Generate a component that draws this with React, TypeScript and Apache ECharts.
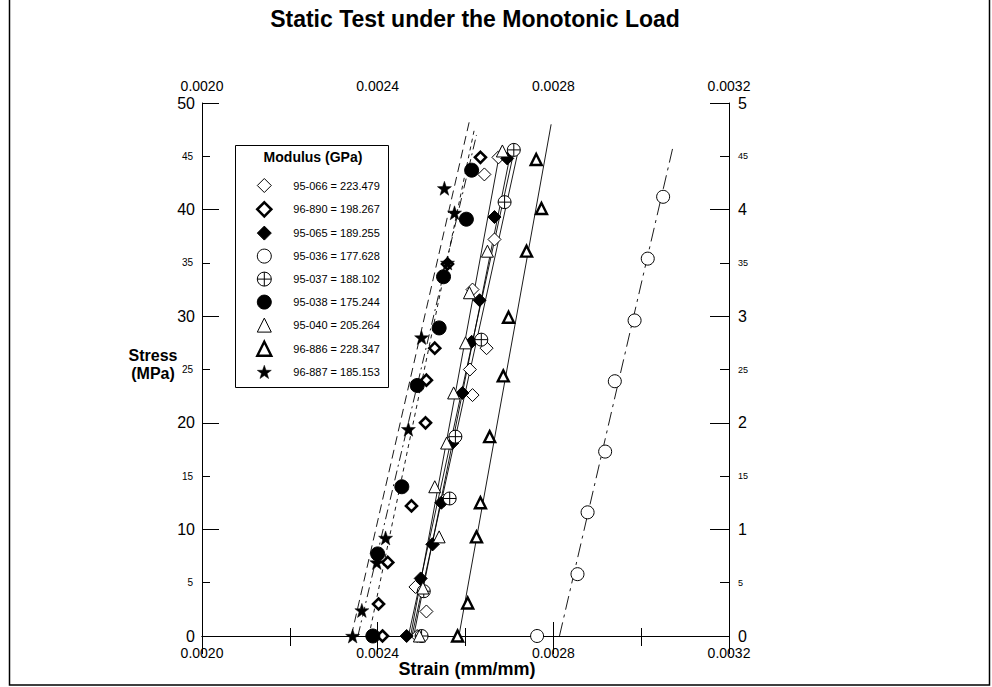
import React, { useEffect, useRef } from "react";
import * as echarts from "echarts";

// ---------- data (strain mm/mm, stress MPa) ----------
const legendNames = [
  "95-066 = 223.479",
  "96-890 = 198.267",
  "95-065 = 189.255",
  "95-036 = 177.628",
  "95-037 = 188.102",
  "95-038 = 175.244",
  "95-040 = 205.264",
  "96-886 = 228.347",
  "96-887 = 185.153",
];

const s95066 = [[0.00249, 0], [0.002511, 2.3], [0.002486, 4.6], [0.002525, 8.6], [0.00255, 12.7], [0.00257, 18.4], [0.002616, 22.6], [0.00261, 25.0], [0.002648, 27.0], [0.002616, 32.5], [0.002666, 37.2], [0.002643, 43.3], [0.002675, 44.9]];
const s96890 = [[0.002411, 0], [0.002402, 3.0], [0.002423, 6.9], [0.002477, 12.2], [0.002509, 20.0], [0.002511, 24.0], [0.00253, 27.0], [0.002559, 34.9], [0.002634, 44.9]];
const s95065 = [[0.002466, 0], [0.002498, 5.4], [0.002525, 8.6], [0.002545, 12.5], [0.00257, 18.1], [0.002593, 22.8], [0.002614, 27.6], [0.002632, 31.5], [0.002666, 39.3], [0.002695, 44.8]];
const s95036 = [[0.002763, 0], [0.002855, 5.8], [0.002878, 11.6], [0.002918, 17.3], [0.00294, 23.9], [0.002985, 29.6], [0.003015, 35.4], [0.00305, 41.2]];
const s95037 = [[0.0025, 0], [0.002505, 4.2], [0.002564, 12.9], [0.002577, 18.7], [0.002636, 27.8], [0.002689, 40.7], [0.00271, 45.6]];
const s95038 = [[0.002389, 0], [0.0024, 7.7], [0.002455, 14.0], [0.00249, 23.5], [0.00254, 28.9], [0.00255, 33.7], [0.002602, 39.1], [0.002614, 43.7]];
const s95040 = [[0.002495, 0], [0.002503, 4.5], [0.00254, 9.3], [0.00253, 14.0], [0.002557, 18.1], [0.002573, 22.8], [0.0026, 27.5], [0.002609, 32.2], [0.00265, 36.1], [0.002684, 45.5]];
const s96886 = [[0.002582, 0], [0.002605, 3.1], [0.002625, 9.3], [0.002634, 12.5], [0.002655, 18.7], [0.002686, 24.4], [0.002698, 29.9], [0.002739, 36.1], [0.002773, 40.1], [0.002761, 44.7]];
const s96887 = [[0.002343, 0], [0.002364, 2.4], [0.002398, 6.9], [0.002418, 9.2], [0.00247, 19.4], [0.0025, 28.0], [0.002559, 35.0], [0.002575, 39.7], [0.002552, 42.0]];

// fitted lines (end points)
const fit95066 = [[0.002475, 0], [0.00268, 45.8]];
const fit96890 = [[0.00238, 0], [0.00262, 47.5]];
const fit95065 = [[0.00247, 0], [0.00271, 45.4]];
const fit95036 = [[0.002814, 0], [0.003072, 45.8]];
const fit95037 = [[0.002478, 0], [0.002722, 45.9]];
const fit95038 = [[0.002355, 0], [0.002625, 47]];
const fit95040 = [[0.002482, 0], [0.002705, 45.8]];
const fit96886 = [[0.002585, 0], [0.002795, 48]];
const fit96887 = [[0.00234, 0], [0.00261, 48.5]];

const strainMin = 0.002;
const strainMax = 0.0032;
const strainStep = 0.0004;
const stressMax = 50;
const ratioMax = 5;

const FONT = "Liberation Sans";
const STAR = "path://M0,-10 L2.35,-3.24 L9.51,-3.09 L3.8,1.24 L5.88,8.09 L0,4 L-5.88,8.09 L-3.8,1.24 L-9.51,-3.09 L-2.35,-3.24 Z";
const CIRCLE_PLUS = "path://M10,0 A10,10 0 1,1 -10,0 A10,10 0 1,1 10,0 Z M-10,0 L10,0 M0,-10 L0,10";

type Sty = { symbol: string; size: number; fill: string; bw: number };
const styles: Sty[] = [
  { symbol: "diamond", size: 13, fill: "#fff", bw: 1 },
  { symbol: "diamond", size: 11, fill: "#fff", bw: 2.6 },
  { symbol: "diamond", size: 13, fill: "#000", bw: 1 },
  { symbol: "circle", size: 13, fill: "#fff", bw: 1 },
  { symbol: CIRCLE_PLUS, size: 13, fill: "#fff", bw: 1 },
  { symbol: "circle", size: 14, fill: "#000", bw: 1 },
  { symbol: "triangle", size: 12, fill: "#fff", bw: 1 },
  { symbol: "triangle", size: 11, fill: "#fff", bw: 2.4 },
  { symbol: STAR, size: 14, fill: "#000", bw: 0.5 },
];
const pointSets = [s95066, s96890, s95065, s95036, s95037, s95038, s95040, s96886, s96887];
const fitSets = [fit95066, fit96890, fit95065, fit95036, fit95037, fit95038, fit95040, fit96886, fit96887];
const fitDash: any[] = ["solid", [4, 4], "solid", [14, 5, 3, 5], "solid", [10, 4, 2, 4], "solid", "solid", [9, 5]];

function buildOption() {
  const lineSeries = fitSets.map((d, i) => ({
    name: "fit " + legendNames[i],
    type: "line",
    data: d,
    symbol: "none",
    silent: true,
    z: 1,
    lineStyle: { color: "#000", width: 0.9, type: fitDash[i] },
  }));
  const scatterSeries = pointSets.map((d, i) => ({
    name: legendNames[i],
    type: "scatter",
    data: d,
    symbol: styles[i].symbol,
    symbolSize: styles[i].size,
    z: 3,
    itemStyle: {
      color: styles[i].fill,
      borderColor: "#000",
      borderWidth: styles[i].bw,
      opacity: 1,
    },
  }));
  const legendData = legendNames.map((n, i) => ({
    name: n,
    icon: styles[i].symbol,
    itemStyle: { color: styles[i].fill, borderColor: "#000", borderWidth: styles[i].bw },
  }));
  const axisCommon = {
    type: "value",
    splitLine: { show: false },
    axisLine: { show: true, lineStyle: { color: "#000", width: 1 } },
  };
  return {
    animation: false,
    backgroundColor: "#fff",
    grid: { left: 202, right: 263, top: 103, bottom: 51 },
    xAxis: [
      {
        ...axisCommon,
        position: "bottom",
        min: strainMin,
        max: strainMax,
        interval: strainStep,
        axisTick: { inside: true, length: 14, lineStyle: { color: "#000" } },
        minorTick: { show: true, splitNumber: 2, length: 8, lineStyle: { color: "#000" } },
        axisLabel: { color: "#000", fontSize: 14, fontFamily: FONT, margin: 10, formatter: (v: number) => v.toFixed(4) },
      },
      {
        ...axisCommon,
        position: "top",
        min: strainMin,
        max: strainMax,
        interval: strainStep,
        axisTick: { inside: true, length: 18, lineStyle: { color: "#000" } },
        minorTick: { show: true, splitNumber: 2, length: 10, lineStyle: { color: "#000" } },
        axisLabel: { color: "#000", fontSize: 14, fontFamily: FONT, margin: 10, formatter: (v: number) => v.toFixed(4) },
      },
    ],
    yAxis: [
      {
        ...axisCommon,
        position: "left",
        offset: 0,
        min: 0,
        max: stressMax,
        interval: 10,
        axisTick: { inside: true, length: 17, lineStyle: { color: "#000" } },
        minorTick: { show: true, splitNumber: 2, length: 8, lineStyle: { color: "#000" } },
        axisLabel: { color: "#000", fontSize: 16, fontFamily: FONT, margin: 7 },
      },
      {
        ...axisCommon,
        position: "left",
        offset: 0,
        min: 0,
        max: stressMax,
        interval: 5,
        axisLine: { show: false },
        axisTick: { show: false },
        axisLabel: {
          color: "#000",
          fontSize: 10,
          fontFamily: FONT,
          margin: 9,
          formatter: (v: number) => (Math.round(v) % 10 === 5 ? String(Math.round(v)) : ""),
        },
      },
      {
        ...axisCommon,
        position: "right",
        offset: 0,
        min: 0,
        max: ratioMax,
        interval: 1,
        axisTick: { inside: true, length: 19, lineStyle: { color: "#000" } },
        minorTick: { show: true, splitNumber: 2, length: 9, lineStyle: { color: "#000" } },
        axisLabel: { color: "#000", fontSize: 16, fontFamily: FONT, margin: 9 },
      },
      {
        ...axisCommon,
        position: "right",
        offset: 0,
        min: 0,
        max: ratioMax,
        interval: 0.5,
        axisLine: { show: false },
        axisTick: { show: false },
        axisLabel: {
          color: "#000",
          fontSize: 9,
          fontFamily: FONT,
          margin: 9,
          formatter: (v: number) => {
            const t = Math.round(v * 10);
            return t % 10 === 5 ? String(t) : "";
          },
        },
      },
    ],
    legend: {
      data: legendData,
      orient: "vertical",
      left: 256,
      top: 178,
      itemWidth: 14,
      itemHeight: 14,
      itemGap: 8,
      padding: 0,
      selectedMode: false,
      textStyle: { color: "#000", fontSize: 11, fontFamily: FONT, padding: [0, 0, 0, 17] },
    },
    graphic: [
      {
        type: "rect",
        shape: { x: 9.5, y: -1, width: 980, height: 686 },
        style: { fill: "none", stroke: "#000", lineWidth: 1.5 },
        silent: true,
        z: 0,
      },
      {
        type: "rect",
        shape: { x: 235.5, y: 145.5, width: 153, height: 242 },
        style: { fill: "none", stroke: "#000", lineWidth: 1 },
        silent: true,
      },
      {
        type: "text",
        x: 313,
        y: 157,
        style: { text: "Modulus (GPa)", fontSize: 14, fontWeight: "bold", fontFamily: FONT, fill: "#000", textAlign: "center", textVerticalAlign: "middle" },
      },
      {
        type: "text",
        x: 475,
        y: 19,
        style: { text: "Static Test under the Monotonic Load", fontSize: 23, fontWeight: "bold", fontFamily: FONT, fill: "#000", textAlign: "center", textVerticalAlign: "middle" },
      },
      {
        type: "text",
        x: 467,
        y: 669,
        style: { text: "Strain (mm/mm)", fontSize: 18, fontWeight: "bold", fontFamily: FONT, fill: "#000", textAlign: "center", textVerticalAlign: "middle" },
      },
      {
        type: "text",
        x: 153,
        y: 355,
        style: { text: "Stress", fontSize: 16, fontWeight: "bold", fontFamily: FONT, fill: "#000", textAlign: "center", textVerticalAlign: "middle" },
      },
      {
        type: "text",
        x: 153,
        y: 373,
        style: { text: "(MPa)", fontSize: 16, fontWeight: "bold", fontFamily: FONT, fill: "#000", textAlign: "center", textVerticalAlign: "middle" },
      },
    ],
    series: [...lineSeries, ...scatterSeries],
  };
}

export default function App() {
  const ref = useRef<HTMLDivElement>(null);
  useEffect(() => {
    if (!ref.current) return;
    const chart = echarts.init(ref.current, null, { renderer: "svg" });
    chart.setOption(buildOption() as any);
    return () => chart.dispose();
  }, []);
  return (
    <div
      ref={ref}
      style={{ position: "absolute", left: 0, top: 0, width: 992, height: 687, background: "#fff" }}
    />
  );
}
